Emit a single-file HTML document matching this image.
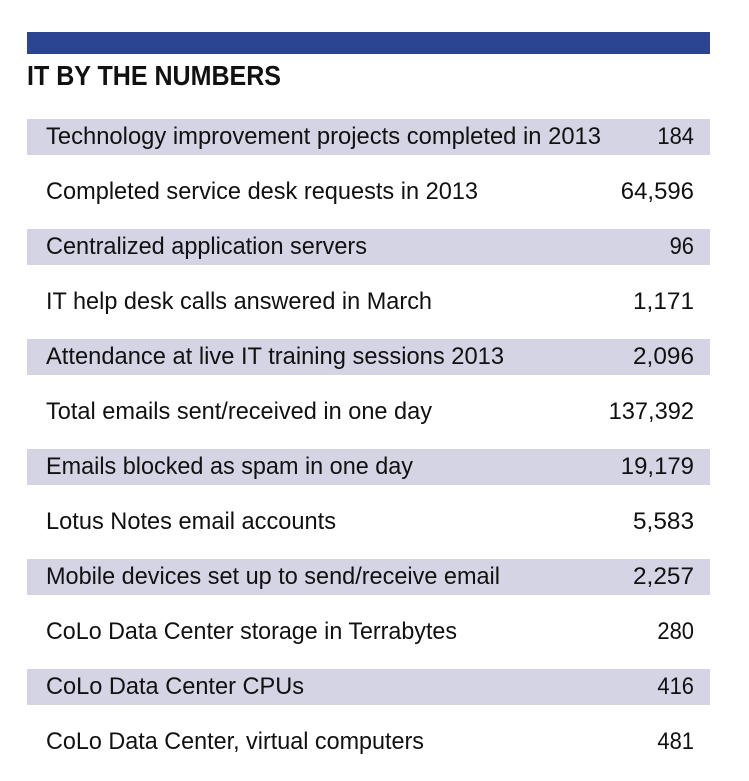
<!DOCTYPE html>
<html><head><meta charset="utf-8">
<style>
html,body{margin:0;padding:0;background:#fff;}
svg{display:block;}
text{font-family:"Liberation Sans Narrow","Liberation Sans",sans-serif;fill:#111;}
</style></head>
<body>
<svg id="chart" width="749" height="781" viewBox="0 0 749 781" xmlns="http://www.w3.org/2000/svg">
  <rect x="27" y="32" width="683" height="22" fill="#2b4593"/>
  <text x="27" y="85" font-size="28" font-weight="bold" textLength="254" lengthAdjust="spacingAndGlyphs">IT BY THE NUMBERS</text>
  <g id="rows"></g>
</svg>
<script>
const labels = [
  "Technology improvement projects completed in 2013",
  "Completed service desk requests in 2013",
  "Centralized application servers",
  "IT help desk calls answered in March",
  "Attendance at live IT training sessions 2013",
  "Total emails sent/received in one day",
  "Emails blocked as spam in one day",
  "Lotus Notes email accounts",
  "Mobile devices set up to send/receive email",
  "CoLo Data Center storage in Terrabytes",
  "CoLo Data Center CPUs",
  "CoLo Data Center, virtual computers"
];
const values = [184, 64596, 96, 1171, 2096, 137392, 19179, 5583, 2257, 280, 416, 481];
const labelWidths = [555, 432, 321, 386, 458, 386, 367, 290, 454, 411, 258, 378];

const NS = "http://www.w3.org/2000/svg";
const g = document.getElementById("rows");
const pitch = 55, top0 = 119;
function fmt(v){ return v.toString().replace(/\B(?=(\d{3})+(?!\d))/g, ","); }
labels.forEach((lab, i) => {
  const y = top0 + i * pitch;
  if (i % 2 === 0) {
    const r = document.createElementNS(NS, "rect");
    r.setAttribute("x", 27); r.setAttribute("y", y);
    r.setAttribute("width", 683); r.setAttribute("height", 36);
    r.setAttribute("fill", "#d5d4e5");
    
    
    g.appendChild(r);
  }
  const t = document.createElementNS(NS, "text");
  t.setAttribute("x", 46); t.setAttribute("y", y + 25);
  t.setAttribute("font-size", "24");
  t.setAttribute("textLength", labelWidths[i]);
  t.setAttribute("lengthAdjust", "spacingAndGlyphs");
  t.textContent = lab;
  
  
  g.appendChild(t);
  const s = fmt(values[i]);
  const v = document.createElementNS(NS, "text");
  v.setAttribute("x", 694); v.setAttribute("y", y + 25);
  v.setAttribute("font-size", "24");
  v.setAttribute("text-anchor", "end");
  v.setAttribute("textLength", s.length * 12.2);
  v.setAttribute("lengthAdjust", "spacingAndGlyphs");
  v.textContent = s;
  
  
  g.appendChild(v);
});
</script>
</body></html>
